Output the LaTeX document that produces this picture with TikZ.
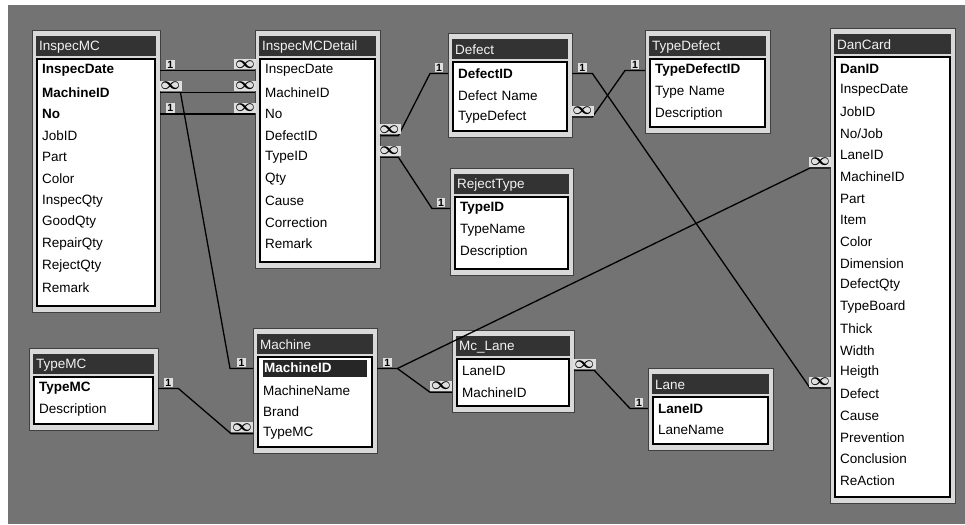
\documentclass[tikz,border=0pt]{standalone}
\usepackage{fontspec}
\setmainfont{Liberation Sans}
\tikzset{
  tablebox/.style = {fill = gray!30, draw = black!75, line width = .6pt},
  titlebar/.style = {fill = black!80},
  listbox/.style = {fill = white, draw = black, line width = 1.2pt},
  tabletitle/.style = {anchor = west, inner sep = 0pt, text = gray!10,
    font = \fontsize{13.5}{15}\selectfont},
  field/.style = {anchor = west, inner xsep = 10pt, inner ysep = 0pt,
    align = left, font = \fontsize{13.5}{15}\selectfont},
  relline/.style = {draw = black, line width = 1.3pt},
  card/.style = {fill = gray!25, inner sep = 1.2pt, above = .5pt,
    font = \bfseries\fontsize{10.5}{11}\selectfont}
}
\newcommand{\key}[1]{\textbf{#1}}
\newcommand{\many}{{\fontsize{16}{12}\selectfont\boldmath$\infty$}}
\newcommand{\hlkey}[1]{{\setlength{\fboxsep}{1pt}\colorbox{black!85}{%
  \makebox[\dimexpr\tw pt-2pt\relax][l]{\rule[-4pt]{0pt}{15pt}%
  \textcolor{white}{\bfseries #1}}}}}
% table: id, title, x, y, width, height, fields
\newcommand{\dbtable}[7]{%
  \pgfmathsetmacro\tw{#5-20}
  \draw [tablebox] (#3,#4) rectangle ++(#5,#6);
  \fill [titlebar] (#3+4,#4+6) rectangle (#3+#5-4,#4+26);
  \node [tabletitle] (#1-title) at (#3+7,#4+17) {#2};
  \draw [listbox] (#3+5,#4+29) rectangle (#3+#5-5,#4+#6-6);
  \foreach \f [count = \i] in {#7}
    \node [field, text width = \tw pt] (#1-\i) at (#3,{#4+18.8+21.7*\i}) {\f};
}
\begin{document}
\begin{tikzpicture}[x = 1pt, y = -1pt]
  \useasboundingbox (0,0) rectangle (965,524);
  \fill [black!55] (8,5) rectangle (965,524);
  % tables
  \dbtable{mc}{InspecMC}{32}{30}{128}{282}{\key{InspecDate}, \key{MachineID},
    \key{No}, JobID, Part, Color, InspecQty, GoodQty, RepairQty, RejectQty, Remark}
  \dbtable{mcd}{InspecMCDetail}{255}{30}{125}{238}{InspecDate, MachineID, No,
    DefectID, TypeID, Qty, Cause, Correction, Remark}
  \dbtable{df}{Defect}{448}{33}{124}{104}{\key{DefectID}, Defect Name, TypeDefect}
  \dbtable{td}{TypeDefect}{645}{30}{125}{103}{\key{TypeDefectID}, Type Name,
    Description}
  \dbtable{rt}{RejectType}{450}{168}{123}{107}{\key{TypeID}, TypeName, Description}
  \dbtable{dc}{DanCard}{830}{28}{125}{475}{\key{DanID}, InspecDate, JobID, No/Job,
    LaneID, MachineID, Part, Item, Color, Dimension, DefectQty, TypeBoard, Thick,
    Width, Heigth, Defect, Cause, Prevention, Conclusion, ReAction}
  \dbtable{ma}{Machine}{253}{328}{124}{125}{\hlkey{MachineID}, MachineName, Brand,
    TypeMC}
  \dbtable{tm}{TypeMC}{29}{348}{129}{82}{\key{TypeMC}, Description}
  \dbtable{ml}{Mc\_Lane}{452}{330}{122}{82}{LaneID, MachineID}
  \dbtable{ln}{Lane}{648}{368}{125}{82}{\key{LaneID}, LaneName}
  % relationships
  \draw [relline] (mc-1.east) -- node [card] (j1a) {1} ++(20,0)
    -- ([xshift = -20pt]mcd-1.west) -- node [card] (j1b) {\many} (mcd-1.west);
  \draw [relline] (mc-2.east) -- node [card] (j2a) {\many} ++(20,0)
    -- ([xshift = -20pt]mcd-2.west) -- node [card] (j2b) {\many} (mcd-2.west);
  \draw [relline] (mc-3.east) -- node [card] (j3a) {1} ++(20,0)
    -- ([xshift = -20pt]mcd-3.west) -- node [card] (j3b) {\many} (mcd-3.west);
  \draw [relline] ([xshift = 20pt]mc-2.east) -- ([xshift = -23pt]ma-1.west)
    -- node [card] (j4b) {1} (ma-1.west);
  \draw [relline] (mcd-4.east) -- node [card] (j5a) {\many} ++(18,0)
    -- ([xshift = -18pt]df-1.west) -- node [card] (j5b) {1} (df-1.west);
  \draw [relline] (mcd-5.east) -- node [card] (j6a) {\many} ++(18,0)
    -- ([xshift = -18pt]rt-1.west) -- node [card] (j6b) {1} (rt-1.west);
  \draw [relline] (df-3.east) -- node [card] (j7a) {\many} ++(20,0)
    -- ([xshift = -20pt]td-1.west) -- node [card] (j7b) {1} (td-1.west);
  \draw [relline] (df-1.east) -- node [card] (j8a) {1} ++(20,0)
    -- ([xshift = -20pt, yshift = 6pt]dc-16.west)
    -- node [card] (j8b) {\many} ([yshift = 6pt]dc-16.west);
  \draw [relline] (ma-1.east) -- node [card] (j9a) {1} ++(20,0)
    -- ([xshift = -20pt, yshift = 9pt]dc-6.west)
    -- node [card] (j9b) {\many} ([yshift = 9pt]dc-6.west);
  \draw [relline] ([xshift = 20pt]ma-1.east) -- ([xshift = -22pt]ml-2.west)
    -- node [card] (j10b) {\many} (ml-2.west);
  \draw [relline] (ml-1.east) -- node [card] (j11a) {\many} ++(20,0)
    -- ([xshift = -18pt]ln-1.west) -- node [card] (j11b) {1} (ln-1.west);
  \draw [relline] (tm-1.east) -- node [card] (j12a) {1} ++(20,0)
    -- ([xshift = -22pt]ma-4.west) -- node [card] (j12b) {\many} (ma-4.west);
\end{tikzpicture}
\end{document}
